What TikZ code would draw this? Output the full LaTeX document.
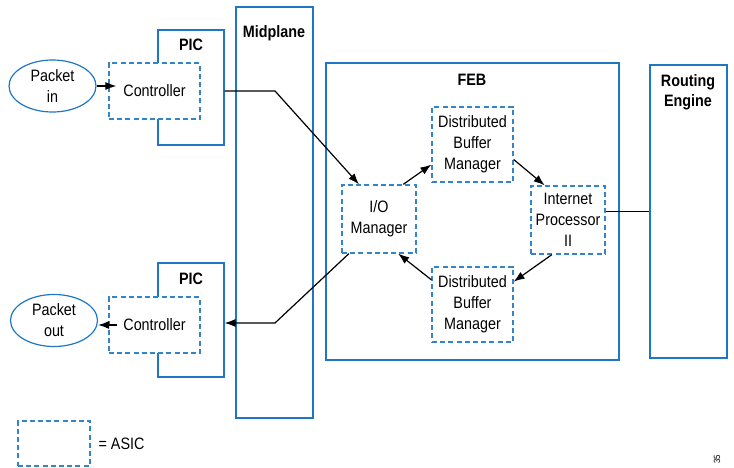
\documentclass[tikz,border=0pt]{standalone}
\usepackage{fontspec}
\setmainfont{Liberation Sans}[FakeStretch=0.87]
\usepackage{tikz}
\usetikzlibrary{calc, arrows.meta, shapes.geometric}
\definecolor{boxblue}{RGB}{30,118,196}
\definecolor{asicblue}{RGB}{52,132,202}
\tikzstyle{block} = [rectangle, draw=boxblue, line width=1.2pt, fill=white, inner sep=0pt]
\tikzstyle{asic} = [rectangle, draw=asicblue, line width=1.3pt, dash pattern=on 5pt off 3.2pt, fill=white, inner sep=0pt, align=center]
\tikzstyle{packet} = [ellipse, draw=boxblue, line width=1.2pt, fill=white, inner sep=0pt, minimum width=87pt, minimum height=52pt, align=center]
\tikzstyle{title} = [font=\fontsize{16.5}{20}\selectfont\bfseries, align=center]

\begin{document}
\begin{tikzpicture}[x=1pt, y=-1pt, font=\fontsize{16.5}{21}\selectfont, >={Latex[length=11pt,width=8pt]}, line width=1.2pt]

        \useasboundingbox (0,0) rectangle (734,468);

        % left side
        \node (pictop) [block, minimum width=66pt, minimum height=115pt] at (191,87.5) {};
        \node (pictoptext) [title] at (191,45) {PIC};
        \node (picbot) [block, minimum width=66pt, minimum height=114pt] at (191,320) {};
        \node (picbottext) [title] at (191,279) {PIC};

        \node (ctrlin) [asic, minimum width=91pt, minimum height=56pt] at (154.5,91) {Controller};
        \node (ctrlout) [asic, minimum width=91pt, minimum height=56pt] at (154.5,325) {Controller};

        \node (pin) [packet] at (52.5,86) {Packet\\in};
        \node (pout) [packet] at (54,320.5) {Packet\\out};

        \node (midplane) [block, minimum width=77pt, minimum height=411pt] at (274.5,212.5) {};
        \node (midtext) [title] at (274,33) {Midplane};

        % FEB
        \node (feb) [block, minimum width=293pt, minimum height=297pt] at (472.5,211.5) {};
        \node (febtext) [title] at (472,80) {FEB};

        \node (io) [asic, minimum width=74pt, minimum height=68pt] at (379,219) {I/O\\Manager};
        \node (dbmtop) [asic, minimum width=81pt, minimum height=75pt] at (472.5,144.5) {Distributed\\Buffer\\Manager};
        \node (dbmbot) [asic, minimum width=81pt, minimum height=75pt] at (472.5,304.5) {Distributed\\Buffer\\Manager};
        \node (ip) [asic, minimum width=74pt, minimum height=68pt] at (568,220) {Internet\\Processor\\II};

        % routing engine
        \node (re) [block, minimum width=77pt, minimum height=293pt] at (688.5,211.5) {};
        \node (retext) [title] at (688,92) {Routing\\Engine};

        % legend
        \node (legend) [asic, minimum width=72pt, minimum height=45pt] at (54,443.5) {};
        \node (legendtext) [anchor=west, inner sep=0pt] at (98,444) {= ASIC};
        \node (pagenum) [rotate=90, font=\fontsize{9}{9}\selectfont] at (717,459) {35};

        \coordinate (bendin) at (275,91);
        \coordinate (bendout) at (275,323);

        \draw[->] (pin.east) -- ([xshift=8pt]pin.east -| ctrlin.west);
        \draw[->] (ctrlin.east -| pictop.east) -- (bendin) -- (io.120);
        \draw[->] (io.229) -- (bendout) -- (bendout -| picbot.east);
        \draw[->] ([xshift=9pt]ctrlout.west) -- (ctrlout.west -| pout.east);

        \draw[->] (io.55) -- (dbmtop.206);
        \draw[->] (dbmtop.-20) -- (ip.124);
        \draw[->] (ip.245) -- (dbmbot.29);
        \draw[->] (dbmbot.149) -- (io.-61);

        \draw (re.west -| ip.east) -- (re.west);

    \end{tikzpicture}
\end{document}
